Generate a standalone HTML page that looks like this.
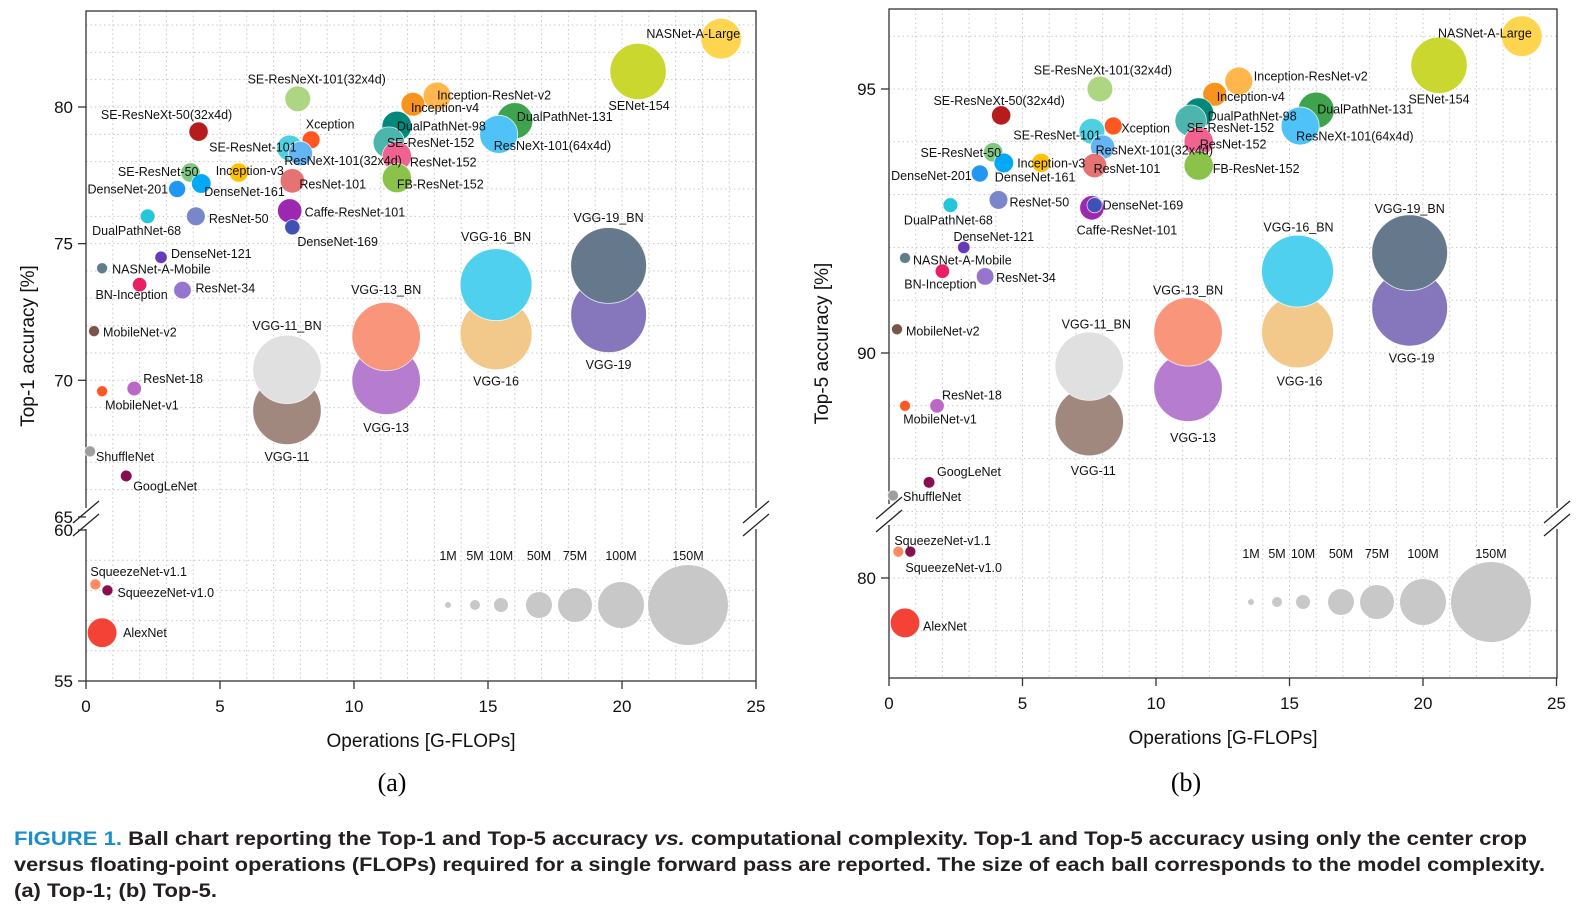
<!DOCTYPE html>
<html><head><meta charset="utf-8">
<style>
html,body{margin:0;padding:0;background:#fff;}
svg{display:block;}
text{font-family:"Liberation Sans",Arial,sans-serif;}
</style></head>
<body>
<svg id="fig" width="1583" height="911" viewBox="0 0 1583 911" xmlns="http://www.w3.org/2000/svg">
<g id="panelA"></g>
<g id="panelB"></g>
<text x="392" y="791" text-anchor="middle" style="font-family:'Liberation Serif',serif;font-size:26px">(a)</text>
<text x="1186" y="791" text-anchor="middle" style="font-family:'Liberation Serif',serif;font-size:26px">(b)</text>
<g style="font-weight:bold;font-size:19.5px;fill:#231f20">
<text x="14" y="845" textLength="1513" lengthAdjust="spacingAndGlyphs"><tspan fill="#1a8fc9">FIGURE 1.</tspan> Ball chart reporting the Top-1 and Top-5 accuracy <tspan font-style="italic">vs.</tspan> computational complexity. Top-1 and Top-5 accuracy using only the center crop</text>
<text x="14" y="871" textLength="1531" lengthAdjust="spacingAndGlyphs">versus floating-point operations (FLOPs) required for a single forward pass are reported. The size of each ball corresponds to the model complexity.</text>
<text x="14" y="897" textLength="203" lengthAdjust="spacingAndGlyphs">(a) Top-1; (b) Top-5.</text>
</g>
</svg>
<script>
const models = ["VGG-11","VGG-11_BN","VGG-13","VGG-13_BN","VGG-16","VGG-16_BN","VGG-19","VGG-19_BN",
"NASNet-A-Large","SENet-154","SE-ResNeXt-101(32x4d)","Inception-ResNet-v2","Inception-v4","DualPathNet-131","DualPathNet-98","ResNeXt-101(64x4d)","SE-ResNet-152","ResNet-152","FB-ResNet-152","Xception","SE-ResNeXt-50(32x4d)","SE-ResNet-101","ResNeXt-101(32x4d)","ResNet-101","Inception-v3","SE-ResNet-50","DenseNet-201","DenseNet-161","Caffe-ResNet-101","DenseNet-169","ResNet-50","DualPathNet-68","DenseNet-121","NASNet-A-Mobile","BN-Inception","ResNet-34","MobileNet-v2","MobileNet-v1","ResNet-18","ShuffleNet","GoogLeNet","SqueezeNet-v1.1","SqueezeNet-v1.0","AlexNet"];
const flops = [7.5,7.5,11.2,11.2,15.3,15.3,19.5,19.5,
23.7,20.6,7.9,13.1,12.2,16.0,11.6,15.4,11.3,11.6,11.6,8.4,4.2,7.6,8.0,7.7,5.7,3.9,3.4,4.3,7.6,7.7,4.1,2.3,2.8,0.6,2.0,3.6,0.3,0.6,1.8,0.15,1.5,0.35,0.8,0.6];
const top1 = [68.9,70.4,70.0,71.6,71.7,73.5,72.4,74.2,
82.5,81.3,80.3,80.4,80.1,79.5,79.3,79.0,78.7,78.2,77.4,78.8,79.1,78.5,78.3,77.3,77.6,77.6,77.0,77.2,76.2,75.6,76.0,76.0,74.5,74.1,73.5,73.3,71.8,69.6,69.7,67.4,66.5,58.2,58.0,56.6];
const top5 = [88.7,89.75,89.35,90.4,90.4,91.55,90.85,91.9,
96.0,95.45,95.0,95.15,94.9,94.6,94.55,94.3,94.4,94.0,93.55,94.3,94.5,94.2,93.9,93.55,93.6,93.8,93.4,93.6,92.75,92.8,92.9,92.8,92.0,91.8,91.55,91.45,90.45,89.0,89.0,87.3,87.55,80.5,80.5,79.15];
const params = [132.9,132.9,133,133,138,138,143.7,143.7,
88.9,115,49,55.8,42.7,79.3,61.6,83.5,66.8,60.2,60.2,22.9,27.6,49.3,44.2,44.5,27.2,28.1,20,28.7,44.5,14.1,25.6,12.6,8,5.3,11.3,21.8,3.5,4.2,11.7,2.3,7,1.2,1.2,61];
const colors = ["#a1887f","#e0e0e0","#b57ccf","#f8957a","#f2c98a","#4fd0ee","#8677bd","#65788c",
"#fdd54f","#c9d72f","#aed581","#ffb74d","#f7941d","#3fa34d","#00897b","#4fc3f7","#4db6ac","#f06292","#8bc34a","#ff5722","#b71c1c","#4dd0e1","#64b5f6","#e57373","#ffc107","#81c784","#2196f3","#03a9f4","#9c27b0","#3f51b5","#7986cb","#26c6da","#673ab7","#607d8b","#e91e63","#9575cd","#795548","#ff5722","#ba68c8","#9e9e9e","#880e4f","#ff8a65","#880e4f","#f44336"];
const legendLabels = ["1M","5M","10M","50M","75M","100M","150M"];
const legendParams = [1,5,10,50,75,100,150];
const legendRadii = [3,5,7,13,17,23,40];
const xTicks = [0,5,10,15,20,25];
const yTicksA = [80,75,70,65,60,55];
const yTicksB = [95,90,80];

// label layout: [anchor, dx, dy] per model
const labA = [["middle",0,46],["middle",0,-44],["middle",0,47],["middle",0,-47],["middle",0,47],["middle",0,-48],["middle",0,50],["middle",0,-48],
["end",19,-5],["middle",1,34],["middle",19,-20],["start",0,-1],["start",-2,3],["start",2,-4],["start",0,0],["start",-5,11],["start",-2,0],["start",13,6],["start",0,6],["middle",19,-16],["middle",-32,-17],["end",7,-1],["start",-16,7],["start",7,3],["start",-23,-2],["end",8,-1],["end",-9,0],["start",3,8],["start",15,1],["start",5,14],["start",13,2],["middle",-11,14],["start",10,-4],["start",10,1],["middle",-8,10],["start",13,-2],["start",9,1],["start",3,14],["start",9,-10],["start",6,5],["start",7,10],["start",-5,-13],["start",10,2],["start",21,0]];
const labB = [["middle",4,49],["middle",7,-42],["middle",5,50],["middle",0,-42],["middle",2,49],["middle",1,-44],["middle",2,50],["middle",0,-44],
["end",10,-3],["middle",0,34],["middle",3,-19],["start",15,-5],["start",2,2],["start",1,-1],["start",9,3],["start",-4,10],["start",-4,7],["start",1,2],["start",14,3],["start",8,2],["middle",-2,-15],["end",9,4],["start",-7,3],["start",-1,3],["start",-24,0],["end",8,0],["end",-8,2],["start",-9,14],["middle",35,22],["start",8,0],["start",11,2],["middle",-2,15],["middle",30,-11],["start",8,2],["middle",-2,13],["start",11,1],["start",9,2],["middle",35,13],["start",5,-11],["start",10,1],["start",8,-11],["start",-4,-11],["start",-5,16],["start",18,3]];

const NS = "http://www.w3.org/2000/svg";
function mk(parent, tag, attrs, text){
  const e = document.createElementNS(NS, tag);
  for (const k in attrs) e.setAttribute(k, attrs[k]);
  if (text !== undefined) e.textContent = text;
  parent.appendChild(e);
  return e;
}
function radius(p){
  if (p <= legendParams[0]) return legendRadii[0];
  for (let i=1;i<legendParams.length;i++){
    if (p <= legendParams[i]){
      const t=(p-legendParams[i-1])/(legendParams[i]-legendParams[i-1]);
      return legendRadii[i-1]+t*(legendRadii[i]-legendRadii[i-1]);
    }
  }
  return legendRadii[legendRadii.length-1];
}

function drawPanel(g, cfg){
  const {x0,x1,top,bottom,xScale,yScale,vals,labs,upperGrid,lowerGrid,yTicks,breaksL,breaksR,legend,yTitle,yTitleX,xTitleY} = cfg;
  for (let v=1; v<25; v++){
    const x = xScale(v);
    const l = mk(g,"line",{x1:x,x2:x,y1:top,y2:bottom,stroke:"#c8c8c8","stroke-width":1,"stroke-dasharray":"1.5 3"});
    
    
  }
  upperGrid.concat(lowerGrid).forEach(v=>{
    const y = yScale(v);
    const l = mk(g,"line",{x1:x0,x2:x1,y1:y,y2:y,stroke:"#c8c8c8","stroke-width":1,"stroke-dasharray":"1.5 3"});
    
    
  });
  const fr = mk(g,"rect",{x:x0,y:top,width:x1-x0,height:bottom-top,fill:"none",stroke:"#333","stroke-width":1.3});
  
  
  [[x0,breaksL],[x1,breaksR]].forEach(([bx,ys])=>{
    mk(g,"rect",{x:bx-3,y:ys[0]-4,width:6,height:ys[1]-ys[0]+8,fill:"#fff"});
    ys.forEach(yc=>{
      const l = mk(g,"line",{x1:bx-13,y1:yc+11,x2:bx+13,y2:yc-11,stroke:"#222","stroke-width":1.3});
      
      
    });
  });
  xTicks.forEach(v=>{
    const x = xScale(v);
    mk(g,"line",{x1:x,x2:x,y1:bottom,y2:bottom+8,stroke:"#333","stroke-width":1.3});
    const t = mk(g,"text",{x:x,y:bottom+31,"text-anchor":"middle","font-size":"17px",fill:"#111"},String(v));
    
    
  });
  yTicks.forEach(v=>{
    const y = yScale(v);
    mk(g,"line",{x1:x0-8,x2:x0,y1:y,y2:y,stroke:"#333","stroke-width":1.3});
    const t = mk(g,"text",{x:x0-13,y:y+6,"text-anchor":"end","font-size":"17px",fill:"#111"},String(v));
    
    
  });
  const xt = mk(g,"text",{x:(x0+x1)/2,y:xTitleY,"text-anchor":"middle","font-size":"19px",fill:"#111"},"Operations [G-FLOPs]");
  
  
  const yt = mk(g,"text",{x:0,y:0,"text-anchor":"middle","font-size":"19px",fill:"#111",transform:`translate(${yTitleX},${(top+bottom)/2}) rotate(-90)`},yTitle);
  
  
  legendLabels.forEach((lab,i)=>{
    const c = mk(g,"circle",{cx:legend.xs[i],cy:legend.y,r:legendRadii[i],fill:"#c8c8c8"});
    
    
    const t = mk(g,"text",{x:legend.xs[i],y:legend.ly,"text-anchor":"middle","font-size":"12.5px",fill:"#111"},lab);
    
    
  });
  models.forEach((m,i)=>{
    const c = mk(g,"circle",{cx:xScale(flops[i]),cy:yScale(vals[i]),r:Math.max(5.5,radius(params[i])),fill:colors[i],stroke:"#fff","stroke-width":0.8,"stroke-opacity":0.8});
    
    
  });
  models.forEach((m,i)=>{
    const [a,dx,dy] = labs[i];
    const t = mk(g,"text",{x:xScale(flops[i])+dx,y:yScale(vals[i])+dy+4.5,"text-anchor":a,"font-size":"12.5px",fill:"#111"},m);
    
    
  });
}

drawPanel(document.getElementById('panelA'),{
  x0:86,x1:756,top:11,bottom:681,
  xScale:v=>86+v*26.8,
  yScale:v=> v>=63 ? 107-(v-80)*27.33 : 530-(v-60)*30.2,
  vals:top1,labs:labA,
  upperGrid:[66,67,68,69,70,71,72,73,74,75,76,77,78,79,80,81,82,83],
  lowerGrid:[56,57,58,59],
  yTicks:yTicksA,breaksL:[512,525],breaksR:[512,525],
  legend:{xs:[448,475,501,539,575,621,688],y:605,ly:560},
  yTitle:"Top-1 accuracy [%]",yTitleX:34,xTitleY:747
});
drawPanel(document.getElementById('panelB'),{
  x0:889,x1:1557,top:9,bottom:678,
  xScale:v=>889+v*26.7,
  yScale:v=> v>=84 ? 89-(v-95)*52.8 : 578-(v-80)*52.8,
  vals:top5,labs:labB,
  upperGrid:[87,88,89,90,91,92,93,94,95,96,97],
  lowerGrid:[79,80,81],
  yTicks:yTicksB,breaksL:[508,521],breaksR:[512,525],
  legend:{xs:[1251,1277,1303,1341,1377,1423,1491],y:602,ly:558},
  yTitle:"Top-5 accuracy [%]",yTitleX:828,xTitleY:744
});
</script>
</body></html>
